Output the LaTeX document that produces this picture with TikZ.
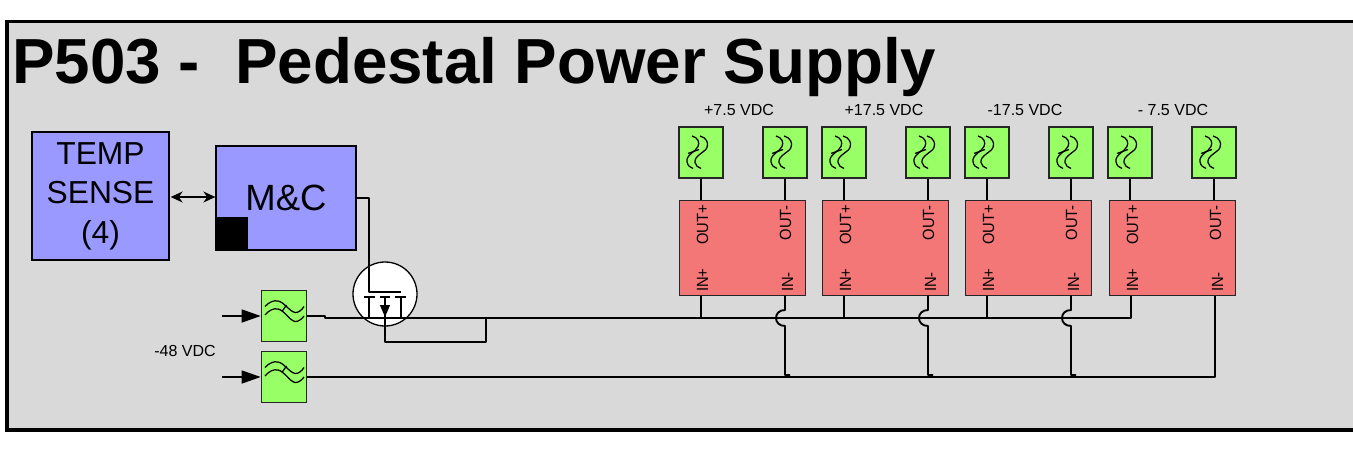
\documentclass[tikz,border=0pt]{standalone}
\usepackage{fontspec}
\setmainfont{Liberation Sans}
\usetikzlibrary{arrows.meta}
\newcommand{\fsz}[1]{\fontsize{#1}{#1}\selectfont}
\newcommand{\pintxt}[1]{\scalebox{.91}[1]{#1}}
\tikzset{
  frame/.style={draw=black,line width=3.5pt,fill=panel},
  wire/.style={draw=black,line width=1.9pt,line cap=round,line join=round},
  filterbox/.style={draw=black!85,line width=1.6pt,fill=filtergreen,inner sep=0pt,minimum width=44pt,minimum height=51pt},
  convbox/.style={draw=black!85,line width=1pt,fill=convred,inner sep=0pt,minimum width=126pt,minimum height=95pt},
  ctrlbox/.style={draw=black,line width=1.3pt,fill=ctrlblue,inner sep=0pt},
  pinlabel/.style={rotate=90,inner sep=0pt,font=\fsz{16.2}},
  vlabel/.style={inner sep=0pt,font=\fsz{16}},
  wave/.style={draw=black,line width=1.25pt},
  intip/.style={-{Triangle[length=19pt,width=13pt]}}
}
\definecolor{panel}{HTML}{D9D9D9}
\definecolor{filtergreen}{HTML}{99FF66}
\definecolor{convred}{HTML}{F47777}
\definecolor{ctrlblue}{HTML}{9999FF}
\newcommand{\vwaves}[1]{%
  \begin{scope}[shift={(#1)}]
    \draw[wave] (-9,-16.5) .. controls (-3,-15) and (-1,-10) .. (-3,-6) .. controls (-5,-1) and (-15,2) .. (-14,9) .. controls (-13.5,13) and (-11,15) .. (-8,16);
    \draw[wave] (-1,-16.5) .. controls (5,-15) and (8,-10) .. (6,-5) .. controls (4,0) and (-7,3) .. (-6,10) .. controls (-5.5,13) and (-3,15) .. (0,16);
    \draw[wave] (-13,1) -- (-2,-3);
  \end{scope}}
\newcommand{\hwaves}[1]{%
  \begin{scope}[shift={(#1)}]
    \draw[wave] (-19,-9.5) .. controls (-15,-14) and (-10,-16) .. (-6,-15) .. controls (0,-14) and (5,-5) .. (11,-3.5) .. controls (14,-3) and (18,-6) .. (20,-9.5);
    \draw[wave] (-19,-1) .. controls (-15,-6) and (-10,-8) .. (-6,-7) .. controls (0,-6) and (5,4) .. (11,5.5) .. controls (14,6) and (18,3) .. (20,0);
    \draw[wave] (-2,-4.5) -- (2.5,-11);
  \end{scope}}
\begin{document}
\begin{tikzpicture}[x=1pt,y=-1pt]
\clip (0,0) rectangle (1353,458);
\fill[white] (0,0) rectangle (1353,458);
\draw[frame] (7,21.5) rectangle (1370,430);
\node[anchor=base west,inner sep=0pt,font=\bfseries\fsz{63.7}] (title) at (12,83) {P503 -\ \ Pedestal Power Supply};

% control blocks
\node[ctrlbox,minimum width=137pt,minimum height=128pt,align=center,font=\fontsize{31.8}{39.5}\selectfont] (temp) at (100.5,196) {TEMP\\SENSE\\(4)};
\node[ctrlbox,minimum width=140pt,minimum height=104pt,font=\fsz{36.5}] (mc) at (286,198) {M\&C};
\node[fill=black,inner sep=0pt,minimum width=33pt,minimum height=33pt] (mcblk) at (231.5,233.5) {};
\draw[line width=1.4pt,{Stealth[length=12pt,width=11pt]}-{Stealth[length=12pt,width=11pt]}] (temp.east |- 0,197) ++(1,0) coordinate (tempio) -- (mc.west |- tempio);

% mosfet
\node[circle,draw=black,line width=1.3pt,fill=white,inner sep=0pt,minimum size=64pt] (fet) at (385,294) {};
\coordinate (gatec) at (369,292);
\coordinate (mcout) at (mc.east |- 0,198);
\coordinate (source) at (385,297);
\coordinate (loopa) at (385,342);
\coordinate (loopb) at (486,342);
\coordinate (loopc) at (486,318);
\draw[wire,line cap=butt] (mcout) -- (mcout -| gatec) -- (gatec) -- (401,292);
\draw[wire,line cap=butt] (364,297) -- (375,297) (380,297) -- (390,297) (395,297) -- (406,297);
\draw[wire,line cap=butt] (369,297) -- (369,319) (401,297) -- (401,319);
\draw[wire,line cap=butt] (source) -- (loopa) -- (loopb) -- (loopc);
\draw[-{Triangle[length=12pt,width=10pt]},line width=1.2pt] (385,304) -- (385,317);

% input filters
\node[filterbox,minimum width=45pt] (fin1) at (284,316) {};
\node[filterbox,minimum width=45pt] (fin2) at (284,377) {};
\hwaves{fin1.center}
\hwaves{fin2.center}
\coordinate (in1) at (222,316);
\coordinate (in2) at (222,377);
\draw[line width=1.4pt,intip] (in1) -- (fin1.west);
\draw[line width=1.4pt,intip] (in2) -- (fin2.west);
\node[vlabel] (lbl48) at (185,351) {-48 VDC};

% converters
\foreach \i/\cx/\vx/\vt/\oa/\ob/\pa/\pb in {
  1/742.5/739/{+7.5 VDC}/701/785/701/785,
  2/885.5/884/{+17.5 VDC}/844/928/844/928,
  3/1028.5/1025/{-17.5 VDC}/987/1071/987/1071,
  4/1172.5/1173/{- 7.5 VDC}/1130/1214/1131/1215}{
  \node[convbox] (conv\i) at (\cx,247.5) {};
  \node[vlabel] (volt\i) at (\vx,110) {\vt};
  \node[filterbox] (fa\i) at (\oa,152.5) {};
  \node[filterbox] (fb\i) at (\ob,152.5) {};
  \vwaves{fa\i.center}
  \vwaves{fb\i.center}
  \coordinate (pa\i) at (\pa,0);
  \coordinate (pb\i) at (\pb,0);
  \draw[wire,line cap=butt] (fa\i.south) -- (fa\i.south |- conv\i.north);
  \draw[wire,line cap=butt] (fb\i.south) -- (fb\i.south |- conv\i.north);
  \node[pinlabel,anchor=east] (op\i) at (\pa+1.5,205) {\pintxt{OUT+}};
  \node[pinlabel,anchor=east] (om\i) at (\pb+0.5,205) {\pintxt{OUT-}};
  \node[pinlabel,anchor=west] (ip\i) at (\pa+1.5,292) {\pintxt{IN+}};
  \node[pinlabel,anchor=west] (im\i) at (\pb+2.5,292) {\pintxt{IN-}};
}

% buses
\coordinate (bus1a) at (325,318);
\coordinate (bus2) at (fin2.east);
\draw[wire,line cap=butt] (fin1.east) -- (325,316) -- (bus1a) -- (pa4 |- bus1a) -- (pa4 |- conv4.south);
\draw[wire,line cap=butt] (bus2) -- (pb4 |- bus2) -- (pb4 |- conv4.south);
\foreach \i in {1,2,3}{
  \draw[wire,line cap=butt] (pa\i |- conv\i.south) -- (pa\i |- bus1a);
  \draw[wire,line cap=butt] (pb\i |- conv\i.south) -- (pb\i |- 0,310) .. controls ([xshift=-12pt]pb\i |- 0,310) and ([xshift=-12pt]pb\i |- 0,326) .. (pb\i |- 0,326) -- (pb\i |- 0,375) -- ([xshift=5pt]pb\i |- 0,375);
}
\end{tikzpicture}
\end{document}
